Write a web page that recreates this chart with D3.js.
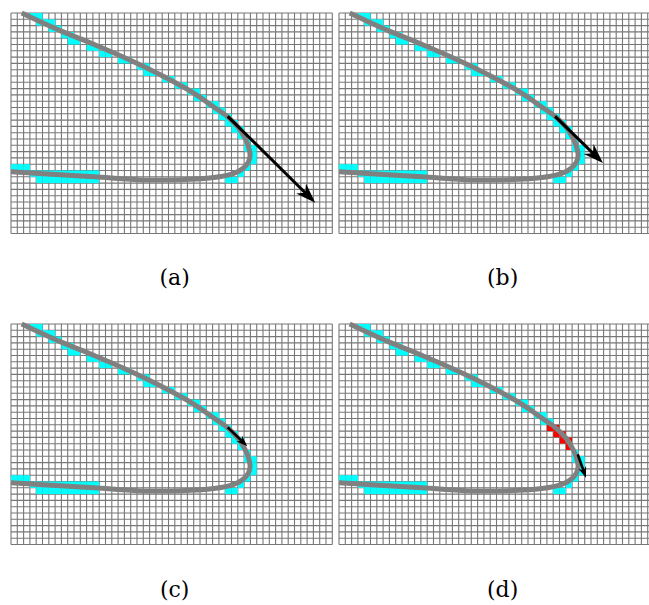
<html>
<head>
<style>
  body { margin: 0; background: white; }
</style>
</head>
<body>
<svg id="svg" width="649" height="605"></svg>
<script src="https://cdn.jsdelivr.net/npm/d3@7"></script>
<script>

// grid size in cells
var nCols = 51;
var nRows = 35;

// panel labels
var labels = ["(a)", "(b)", "(c)", "(d)"];

// the gray curve, in cell units [col, row]
var curvePts = [
  [1.7, 0], [7.8, 2.8], [13.2, 5.0], [18.5, 7.3], [23.7, 9.8], [29, 12.7],
  [32, 14.8], [34.3, 16.4], [36.1, 18.2], [37.2, 20.0], [37.8, 21.6],
  [37.95, 22.7], [37.6, 23.8], [36.5, 24.9], [34.6, 25.7], [31.5, 26.2],
  [27, 26.45], [21.1, 26.5], [13.2, 26.0], [5.2, 25.5], [0, 25.2]
];

// cyan cells: [row, first col, last col]
var cyanRuns = [
  [0, 3, 4], [1, 4, 6], [2, 6, 7], [3, 8, 9], [4, 9, 10], [5, 12, 13],
  [6, 14, 15], [7, 17, 18], [8, 20, 21], [9, 21, 22], [10, 24, 25],
  [11, 26, 27], [12, 28, 29], [13, 29, 30], [14, 31, 32], [15, 32, 33],
  [16, 33, 34], [17, 34, 35], [18, 35, 36], [19, 36, 36], [20, 37, 37],
  [21, 37, 38], [22, 38, 38], [23, 38, 38], [24, 37, 37], [25, 36, 36],
  [26, 34, 35],
  [24, 0, 2], [25, 3, 13], [26, 4, 13]
];

// red cells (panel d only)
var redRuns = [
  [16, 33, 34], [17, 34, 35], [18, 35, 36], [19, 36, 36]
];

// arrows per panel, [x0, y0, x1, y1] in cells
var arrows = [
  [34.4, 16.4, 48.3, 30.1],
  [34.3, 16.4, 41.9, 23.8],
  [34.4, 16.4, 37.5, 19.4],
  [37.9, 20.7, 39.2, 24.4]
];

var cell = 6.3;
var origins = [[11, 13], [339, 13], [11, 324], [339, 324]];
var labelY = [285, 285, 597, 597];

var svg = d3.select("#svg");

var x = d3.scaleLinear().domain([0, nCols]).range([0, nCols * cell]);
var y = d3.scaleLinear().domain([0, nRows]).range([0, nRows * cell]);

function cellsOf(runs) {
  var out = [];
  runs.forEach(r => { for (var c = r[1]; c <= r[2]; c++) out.push([c, r[0]]); });
  return out;
}

var line = d3.line().x(d => x(d[0])).y(d => y(d[1])).curve(d3.curveCatmullRom.alpha(0.5));

labels.forEach((lab, i) => {
  var g = svg.append("g")
    .attr("transform", "translate(" + origins[i][0] + "," + origins[i][1] + ")");

  // grid
  g.selectAll("line.v").data(d3.range(nCols + 1)).join("line").classed("v", true)
    .attr("x1", d => x(d)).attr("x2", d => x(d))
    .attr("y1", 0).attr("y2", y(nRows))
    .attr("stroke", "#777").attr("stroke-width", 1.1);
  g.selectAll("line.h").data(d3.range(nRows + 1)).join("line").classed("h", true)
    .attr("y1", d => y(d)).attr("y2", d => y(d))
    .attr("x1", 0).attr("x2", x(nCols))
    .attr("stroke", "#777").attr("stroke-width", 1.1);

  // cells
  g.selectAll("rect.cy").data(cellsOf(cyanRuns)).join("rect").classed("cy", true)
    .attr("x", d => x(d[0])).attr("y", d => y(d[1]))
    .attr("width", x(1) - x(0)).attr("height", y(1) - y(0))
    .attr("fill", "#00ffff");
  if (i == 3) {
    g.selectAll("rect.rd").data(cellsOf(redRuns)).join("rect").classed("rd", true)
      .attr("x", d => x(d[0])).attr("y", d => y(d[1]))
      .attr("width", x(1) - x(0)).attr("height", y(1) - y(0))
      .attr("fill", "#ff0000");
  }

  // curve
  g.append("path").attr("d", line(curvePts))
    .attr("fill", "none").attr("stroke", "#808080").attr("stroke-width", 5);

  // arrow
  var a = arrows[i];
  var x0 = x(a[0]), y0 = y(a[1]), x1 = x(a[2]), y1 = y(a[3]);
  var len = Math.hypot(x1 - x0, y1 - y0);
  var ux = (x1 - x0) / len, uy = (y1 - y0) / len;
  var hl = i < 2 ? 20 : 11, hw = i < 2 ? 7 : 4;
  var bx = x1 - ux * hl, by = y1 - uy * hl;
  g.append("line")
    .attr("x1", x0).attr("y1", y0)
    .attr("x2", x1 - ux * hl * 0.6).attr("y2", y1 - uy * hl * 0.6)
    .attr("stroke", "black").attr("stroke-width", i < 2 ? 3 : 2.6);
  var nx = x1 - ux * hl * 0.7, ny = y1 - uy * hl * 0.7;
  g.append("path")
    .attr("d", "M" + x1 + "," + y1 +
      "L" + (bx - uy * hw) + "," + (by + ux * hw) +
      "L" + nx + "," + ny +
      "L" + (bx + uy * hw) + "," + (by - ux * hw) + "Z")
    .attr("fill", "black");

  // label
  svg.append("text")
    .attr("x", origins[i][0] + x(nCols) / 2 + 3).attr("y", labelY[i])
    .attr("text-anchor", "middle")
    .attr("font-family", "DejaVu Serif")
    .attr("font-size", 22)
    .text(lab);
});

</script>
</body>
</html>
